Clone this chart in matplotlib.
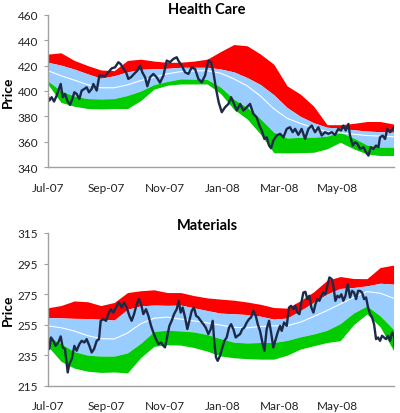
import matplotlib
matplotlib.use("Agg")
import matplotlib.pyplot as plt
import matplotlib.dates as mdates
import numpy as np

plt.rcParams["font.family"] = ["Lato", "DejaVu Sans"]

# band sample days (days since 1 Jul 2007)
BAND_DAYS = [0, 14, 28, 42, 56, 70, 84, 98, 112, 126, 140, 154, 168, 182,
             196, 210, 224, 238, 252, 266, 280, 294, 308, 322, 336, 350, 364]

# ---- Health Care ----
hc_upper2 = [429, 430, 424, 420, 416.5, 416, 424, 425, 423.5, 422.5, 422.6, 423.5, 425, 431,
             436.5, 435.5, 429, 421, 404, 397.5, 388, 373.5, 373.5, 374.5, 376, 376, 374]
hc_upper1 = [422.6, 420.3, 417.2, 413.5, 410, 412, 415, 417, 417.5, 417.8, 418.6, 418.6, 418.6, 417.3,
             415, 410.5, 405, 397, 387, 380, 375, 371.5, 370.7, 369.5, 368.5, 368, 367.6]
hc_mid = [416, 412, 408.5, 405, 402.5, 402.5, 404.8, 408.2, 410.8, 413.5, 415.2, 415.7, 416, 414,
          409.5, 404, 396, 386, 378.5, 374.5, 371, 368, 367, 366, 365, 364.5, 364]
hc_lower1 = [408, 400, 396, 394, 393.7, 394, 396.5, 400, 405, 407.5, 409.5, 409.3, 409, 403,
             393.5, 387, 378, 367.5, 363, 363.6, 363.6, 364.5, 367.6, 363, 357.5, 355.8, 355.8]
hc_lower2 = [405.5, 391, 388, 386.2, 385.9, 386.2, 386.2, 392.5, 401.5, 404.5, 405.5, 405.5, 405.5, 398,
             385.5, 378, 366, 351.5, 351.3, 351.5, 351.8, 354.5, 359.7, 354.5, 350.5, 349.2, 349.2]

hc_price_day = [0, 1.7, 4.2, 6.7, 9.5, 11.2, 13.7, 15.8, 18.2, 20.7, 23.5, 25.9, 28.1, 30.5, 33.3,
                35.8, 38.6, 41.0, 43.5, 46.3, 48.1, 51.6, 54.4, 56.8, 60.3, 63.9, 67.4, 70.9, 74.4,
                76.8, 79.6, 82.5, 84.9, 87.7, 90.9, 94.4, 97.2, 99.6, 102.5, 104.9, 107.7, 111.2,
                114.7, 118.2, 121.8, 125.3, 128.7, 132.3, 135.8, 137.5, 141.0, 144.6, 148.1, 151.6,
                155.1, 158.6, 162.1, 165.6, 169.1, 171.9, 174.4, 177.2, 180.0, 183.2, 186.7, 190.2,
                193.0, 196.2, 199.0, 202.5, 206.0, 209.5, 213.0, 216.5, 220.0, 222.8, 225.3, 228.1,
                230.5, 233.0, 235.1, 237.5, 241.0, 244.6, 248.1, 251.6, 255.0, 257.9, 260.4, 263.8,
                267.3, 270.9, 274.4, 277.9, 281.4, 284.9, 288.4, 291.9, 295.4, 299.0, 302.4, 305.9,
                308.7, 311.2, 313.7, 316.5, 318.2, 321.0, 323.5, 326.0, 328.8, 332.3, 335.1, 337.6,
                340.0, 342.8, 345.6, 348.1, 349.8, 352.6, 355.1, 357.5, 360.4, 363.2, 365.0]
hc_price = [396.4, 392.4, 395.1, 391.7, 396.4, 400.3, 405.5, 395.1, 397.7, 392.4, 389.0, 393.7, 399.0,
            397.7, 393.7, 400.3, 401.6, 402.9, 399.0, 401.6, 405.5, 400.3, 412.1, 412.1, 411.6, 414.7,
            417.8, 418.6, 422.6, 421.2, 417.8, 414.7, 409.5, 410.8, 413.4, 416.0, 420.0, 414.7, 410.8,
            403.7, 410.8, 413.4, 410.8, 406.5, 412.1, 423.9, 422.6, 425.2, 426.5, 423.9, 420.0, 414.7,
            413.4, 418.6, 417.3, 409.5, 406.8, 412.1, 423.9, 422.6, 414.7, 401.6, 391.1, 383.3, 387.2,
            389.8, 395.1, 389.8, 384.6, 389.8, 384.6, 387.2, 389.8, 382.0, 379.3, 372.8, 368.9, 362.3,
            363.6, 357.1, 355.0, 361.0, 365.0, 366.3, 363.6, 370.2, 371.5, 367.6, 370.2, 365.5, 370.2,
            362.3, 370.2, 372.8, 367.6, 371.5, 365.0, 367.6, 366.3, 367.6, 365.5, 370.2, 368.9, 372.8,
            368.9, 374.1, 365.0, 357.1, 359.7, 358.4, 354.5, 355.8, 351.8, 349.2, 355.8, 354.5, 357.1,
            355.8, 363.6, 364.9, 362.3, 370.2, 367.6, 370.2, 371.5]

# ---- Materials ----
mt_upper2 = [266, 267.5, 270.5, 270, 267.5, 269.5, 276, 277.2, 277.8, 276, 276, 274, 272.5, 271.7,
             271, 269.8, 268.3, 266.2, 265.8, 270.7, 276.5, 284, 286.5, 285.2, 285.1, 292.4, 294]
mt_upper1 = [259.7, 259.4, 259.1, 259, 258.5, 258, 265, 267.3, 267.8, 267.6, 267.8, 266, 264.2, 262.5,
             262.1, 261.6, 260.5, 258.6, 259.3, 264.2, 269.6, 275, 278.7, 279.3, 280.4, 282.1, 281.5]
mt_mid = [254.2, 253, 250.8, 247.8, 245.8, 245.6, 249.5, 255.6, 259.2, 259.9, 258.6, 257.4, 256.1, 254.7,
          253.2, 252.9, 253.8, 254.2, 254.3, 256.6, 260.3, 264.2, 268.5, 272.8, 276.6, 275.6, 272.3]
mt_lower1 = [247.3, 242.5, 237.3, 235, 234.4, 234.4, 236.5, 242.8, 250.6, 251.3, 250.9, 250.2, 248.5, 245.8,
             243.5, 243, 243.3, 243.3, 244.7, 247, 248.9, 251.3, 255.7, 262.6, 267.2, 260.7, 251.8]
mt_lower2 = [241, 231, 226.5, 224.5, 223.7, 224, 223.4, 233.5, 240.8, 241.8, 241.6, 240, 237.6, 234.5,
             233.3, 232.7, 232.4, 232.4, 235, 239, 241.2, 243.3, 244.5, 255, 262, 253.5, 238]

mt_price_day = [0, 1.7, 3.5, 5.9, 8.4, 11.2, 13.7, 15.8, 18.2, 21.1, 22.8, 25.3, 28.1, 30.5, 33.3,
                35.8, 38.6, 41.0, 43.9, 46.3, 48.8, 51.6, 54.0, 55.8, 58.6, 61.4, 63.9, 66.3, 69.1,
                71.9, 75.1, 77.9, 80.4, 83.2, 86.0, 88.4, 90.9, 93.7, 96.1, 98.3, 100.7, 103.5, 106.0,
                108.8, 111.2, 114.0, 116.5, 119.3, 121.8, 123.5, 126.0, 128.1, 130.5, 133.0, 135.8,
                137.9, 140.0, 142.1, 144.6, 147.0, 149.1, 151.6, 154.0, 156.2, 158.6, 161.1, 163.9,
                166.3, 169.1, 171.6, 173.7, 175.4, 177.2, 178.9, 181.4, 183.9, 186.0, 188.4, 190.9,
                193.0, 195.4, 197.9, 200.0, 202.5, 204.9, 207.0, 209.5, 211.9, 214.0, 216.5, 219.0,
                221.1, 223.5, 226.0, 228.1, 230.5, 233.0, 235.1, 237.5, 240.0, 242.1, 244.6, 246.3,
                248.8, 251.6, 254.0, 256.1, 258.6, 260.7, 262.8, 264.9, 267.0, 269.1, 271.2, 273.3,
                275.4, 277.5, 279.7, 281.8, 283.9, 286.0, 288.1, 290.2, 292.3, 294.4, 296.5, 299.0,
                300.7, 302.8, 304.9, 307.0, 309.1, 311.2, 313.4, 315.8, 318.2, 320.4, 322.5, 324.6,
                326.7, 328.8, 330.9, 333.0, 335.1, 337.2, 339.3, 341.4, 343.5, 345.6, 347.7, 349.8,
                351.9, 354.0, 356.1, 358.2, 360.4, 362.5, 364.6, 365.0]
mt_price = [245.5, 239.0, 246.6, 244.4, 241.1, 243.3, 247.3, 240.1, 239.0, 223.7, 229.2, 232.4, 241.1,
            237.9, 242.2, 244.4, 243.3, 245.5, 241.1, 236.8, 239.0, 244.4, 245.5, 257.5, 258.6, 257.5,
            261.9, 265.1, 262.9, 266.2, 269.5, 266.2, 269.5, 266.2, 260.8, 257.5, 261.9, 268.4, 271.7,
            268.4, 261.9, 265.1, 260.8, 254.2, 249.9, 245.5, 242.2, 243.3, 241.1, 240.1, 247.7, 254.2,
            257.5, 261.9, 265.1, 270.6, 262.9, 266.2, 259.7, 252.1, 257.5, 264.0, 266.2, 260.8, 259.7,
            257.5, 255.3, 253.1, 248.8, 252.1, 257.5, 243.3, 233.5, 231.3, 234.6, 240.1, 244.4, 246.6,
            253.1, 255.3, 252.1, 246.6, 247.7, 248.8, 252.1, 253.1, 256.4, 258.6, 259.7, 264.0, 260.8,
            255.3, 250.9, 243.3, 237.9, 252.1, 257.5, 249.9, 240.1, 245.5, 249.9, 254.2, 250.9, 256.4,
            254.2, 266.2, 267.3, 265.1, 267.3, 262.9, 261.9, 269.5, 276.0, 276.5, 271.7, 273.9, 266.2,
            262.9, 268.4, 271.7, 270.6, 273.9, 276.0, 274.9, 280.4, 285.9, 284.8, 280.4, 270.6, 273.9,
            272.8, 274.9, 270.6, 273.9, 281.5, 272.8, 277.1, 276.0, 271.7, 277.1, 277.1, 276.0, 271.7,
            272.8, 266.2, 261.9, 259.7, 255.3, 245.5, 246.6, 244.4, 247.7, 246.6, 245.5, 247.7, 244.4,
            249.9, 247.7, 241.1]

RED = "#FF0000"
BLUE = "#99CCFF"
GREEN = "#00CC00"
NAVY = "#1C2A48"
AXIS = "#A0A0A0"

start = mdates.date2num(np.datetime64("2007-07-01"))


def panel(ax, up2, up1, mid, lo1, lo2, pday, price, ylim, yticks):
    x = start + np.array(BAND_DAYS, dtype=float)
    ax.fill_between(x, up1, up2, color=RED, lw=0)
    ax.fill_between(x, lo1, up1, color=BLUE, lw=0)
    ax.fill_between(x, lo2, lo1, color=GREEN, lw=0)
    ax.plot(x, mid, color="white", lw=0.8)
    ax.plot(start + np.array(pday), price, color=NAVY, lw=1.7, solid_joinstyle="round")
    ax.set_xlim(start, start + 365)
    ax.set_ylim(*ylim)
    ax.set_yticks(yticks)
    ax.xaxis.set_major_locator(mdates.MonthLocator(bymonth=[1, 3, 5, 7, 9, 11]))
    ax.xaxis.set_major_formatter(mdates.DateFormatter("%b-%y"))
    for s in ("top", "right"):
        ax.spines[s].set_visible(False)
    for s in ("left", "bottom"):
        ax.spines[s].set_color(AXIS)
        ax.spines[s].set_linewidth(1.0)
    ax.tick_params(axis="x", length=0, pad=10.5, labelsize=8.5, colors="#222222")
    ax.tick_params(axis="y", length=3, width=0.8, color=AXIS, pad=4, labelsize=8.5,
                   labelcolor="#222222")


fig = plt.figure(figsize=(4.0, 4.14), dpi=100)
ax1 = fig.add_axes([0.1192, 0.5935, 0.867, 0.3687])
ax2 = fig.add_axes([0.1192, 0.0659, 0.867, 0.3689])

panel(ax1, hc_upper2, hc_upper1, hc_mid, hc_lower1, hc_lower2, hc_price_day, hc_price,
      (340, 460), range(340, 461, 20))
panel(ax2, mt_upper2, mt_upper1, mt_mid, mt_lower1, mt_lower2, mt_price_day, mt_price,
      (215, 315), range(215, 316, 20))

fig.text(207 / 400, 1 - 9.5 / 414, "Health Care", ha="center", va="center",
         fontsize=10.5, fontweight="bold")
fig.text(207 / 400, 1 - 226 / 414, "Materials", ha="center", va="center",
         fontsize=10.5, fontweight="bold")
fig.text(8 / 400, 1 - 92 / 414, "Price", ha="center", va="center", rotation=90,
         fontsize=10, fontweight="bold")
fig.text(8 / 400, 1 - 310 / 414, "Price", ha="center", va="center", rotation=90,
         fontsize=10, fontweight="bold")

fig.savefig("out.png", dpi=100)
